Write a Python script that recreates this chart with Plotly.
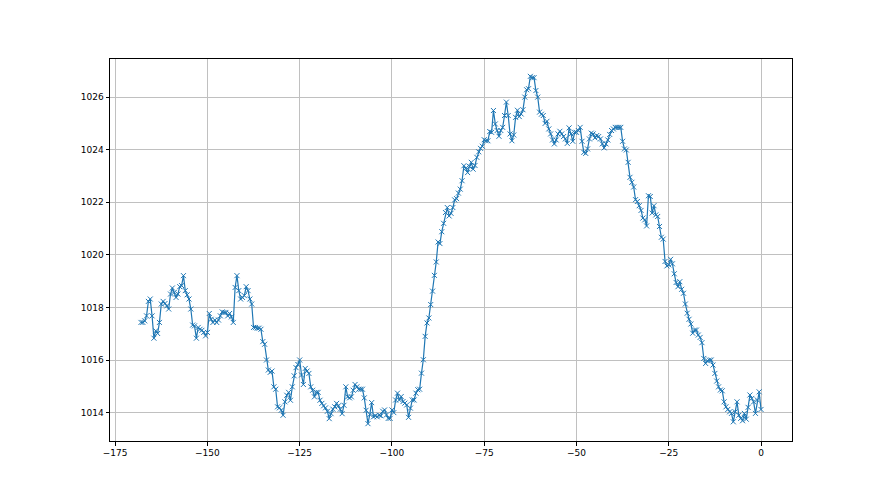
import numpy as np
import plotly.graph_objects as go

# hours relative to now, 0.5 h step
hours = np.arange(-168, 0.25, 0.5)

pressure_a = [
    1017.43, 1017.43, 1017.49, 1017.68, 1018.23, 1018.32, 1017.68, 1016.83, 1017.11, 1017.01,
    1017.43, 1018.13, 1018.23, 1018.15, 1018.06, 1017.94, 1018.51, 1018.74, 1018.57, 1018.38,
    1018.51, 1018.79, 1018.83, 1019.21, 1018.64, 1018.48, 1018.32, 1017.94, 1017.33, 1017.30,
    1016.83, 1017.24, 1017.17, 1017.13, 1017.05, 1016.92, 1017.05, 1017.77, 1017.55, 1017.43,
    1017.52, 1017.43, 1017.52, 1017.68, 1017.83, 1017.81, 1017.81, 1017.68, 1017.77, 1017.64,
    1017.43, 1018.76, 1019.21, 1018.64, 1018.32, 1018.38, 1018.45, 1018.79, 1018.64, 1018.32,
    1018.13, 1017.24, 1017.24, 1017.21, 1017.21, 1017.17, 1016.70,
]
pressure_b = [
    1016.60, 1016.00, 1015.62, 1015.53, 1015.58, 1014.98, 1014.89, 1014.22, 1014.18, 1014.09,
    1013.90, 1014.41, 1014.66, 1014.77, 1014.47, 1014.98, 1015.40, 1015.71, 1015.83, 1016.00,
    1015.43, 1015.07, 1015.68, 1015.58, 1015.49, 1014.98, 1014.85, 1014.60, 1014.77, 1014.77,
    1014.47, 1014.35, 1014.26, 1014.18, 1014.05, 1013.77, 1013.96, 1014.13, 1014.22, 1014.35,
    1014.26, 1014.13, 1013.96, 1014.28, 1014.98, 1014.60, 1014.56, 1014.60, 1014.85, 1015.07,
    1014.98, 1014.89, 1014.89, 1014.89, 1014.56, 1014.09, 1013.58, 1013.93, 1014.38, 1013.84,
    1013.88, 1013.84, 1013.90, 1013.88, 1014.05,
]
pressure_c = [
    1014.10, 1013.91, 1013.78, 1013.78, 1014.10, 1014.00, 1014.48, 1014.74, 1014.48, 1014.61,
    1014.42, 1014.36, 1014.29, 1013.82, 1014.17, 1014.48, 1014.48, 1014.74, 1014.87, 1014.89,
    1015.50, 1016.01, 1016.90, 1017.41, 1017.60, 1018.11, 1018.62, 1019.22, 1019.73, 1020.49,
    1020.43, 1020.88, 1021.20, 1021.61, 1021.80, 1021.48, 1021.58, 1021.80, 1022.09, 1022.14,
    1022.35, 1022.50, 1022.82, 1023.39, 1023.29, 1023.13, 1023.36, 1023.52, 1023.26, 1023.40,
    1023.71, 1023.92, 1024.05, 1024.13, 1024.38, 1024.34, 1024.34, 1024.69, 1024.66, 1025.49,
    1024.98, 1024.73, 1024.51, 1024.73, 1024.85, 1025.30, 1025.81, 1025.30, 1024.60, 1024.34,
    1024.56,
]
pressure_d = [
    1025.23, 1025.50, 1025.26, 1025.36, 1025.52, 1026.00, 1026.28, 1026.32, 1026.79, 1026.74,
    1026.74, 1026.25, 1026.00, 1025.43, 1025.35, 1025.30, 1025.00, 1025.08, 1024.79, 1024.60,
    1024.37, 1024.22, 1024.37, 1024.60, 1024.70, 1024.60, 1024.50, 1024.41, 1024.24, 1024.83,
    1024.60, 1024.32, 1024.66, 1024.66, 1024.73, 1024.85, 1024.32, 1023.90, 1023.86, 1024.03,
    1024.41, 1024.63, 1024.60, 1024.45, 1024.54, 1024.50, 1024.41, 1024.22, 1024.07, 1024.22,
    1024.37, 1024.58, 1024.73, 1024.79, 1024.85, 1024.85, 1024.85, 1024.85, 1024.32, 1024.03,
    1023.99, 1023.52, 1022.95, 1022.76,
]
pressure_e = [
    1022.58, 1022.10, 1022.03, 1021.87, 1021.69, 1021.40, 1021.33, 1021.10, 1022.25, 1022.22,
    1021.59, 1021.87, 1021.52, 1021.46, 1021.08, 1020.67, 1020.60, 1019.75, 1019.58, 1019.62,
    1019.83, 1019.66, 1019.28, 1018.95, 1018.79, 1018.98, 1018.69, 1018.54, 1018.13, 1017.78,
    1017.55, 1017.37, 1017.02, 1017.14, 1017.14, 1016.95, 1016.86, 1016.66, 1016.06, 1015.87,
    1015.97, 1016.00, 1016.00, 1015.81, 1015.49, 1015.20, 1014.98, 1014.86, 1014.83, 1014.41,
    1014.22, 1014.12, 1014.03, 1013.97, 1013.65, 1014.03, 1014.41, 1013.90, 1013.78, 1013.69,
    1013.97, 1013.75, 1014.20, 1014.67, 1014.54, 1014.41, 1013.97, 1014.48, 1014.79, 1014.12,
]
pressure = pressure_a + pressure_b + pressure_c + pressure_d + pressure_e

x_ticks = [-175, -150, -125, -100, -75, -50, -25, 0]
y_ticks = [1014, 1016, 1018, 1020, 1022, 1024, 1026]

color = "#1f77b4"
fig = go.Figure(
    go.Scatter(
        x=list(hours), y=pressure, mode="lines+markers",
        line=dict(color=color, width=1.2),
        marker=dict(symbol="x-thin", size=5, color=color, line=dict(width=1, color=color)),
        showlegend=False,
    )
)

axis_common = dict(
    showline=True, linecolor="black", linewidth=1, mirror=True,
    showgrid=True, gridcolor="#c0c0c0", gridwidth=1,
    ticks="outside", ticklen=3.5, tickcolor="black",
    zeroline=False, tickfont=dict(family="DejaVu Sans", size=9, color="black"),
)
fig.update_xaxes(range=[-176.4, 8.4], tickvals=x_ticks, **axis_common)
fig.update_yaxes(range=[1012.92, 1027.45], tickvals=y_ticks, **axis_common)

fig.update_layout(
    width=880, height=495,
    margin=dict(l=102, r=96, t=51, b=62),
    paper_bgcolor="white", plot_bgcolor="white",
    font=dict(family="DejaVu Sans"),
)

fig.write_html("out.html")
